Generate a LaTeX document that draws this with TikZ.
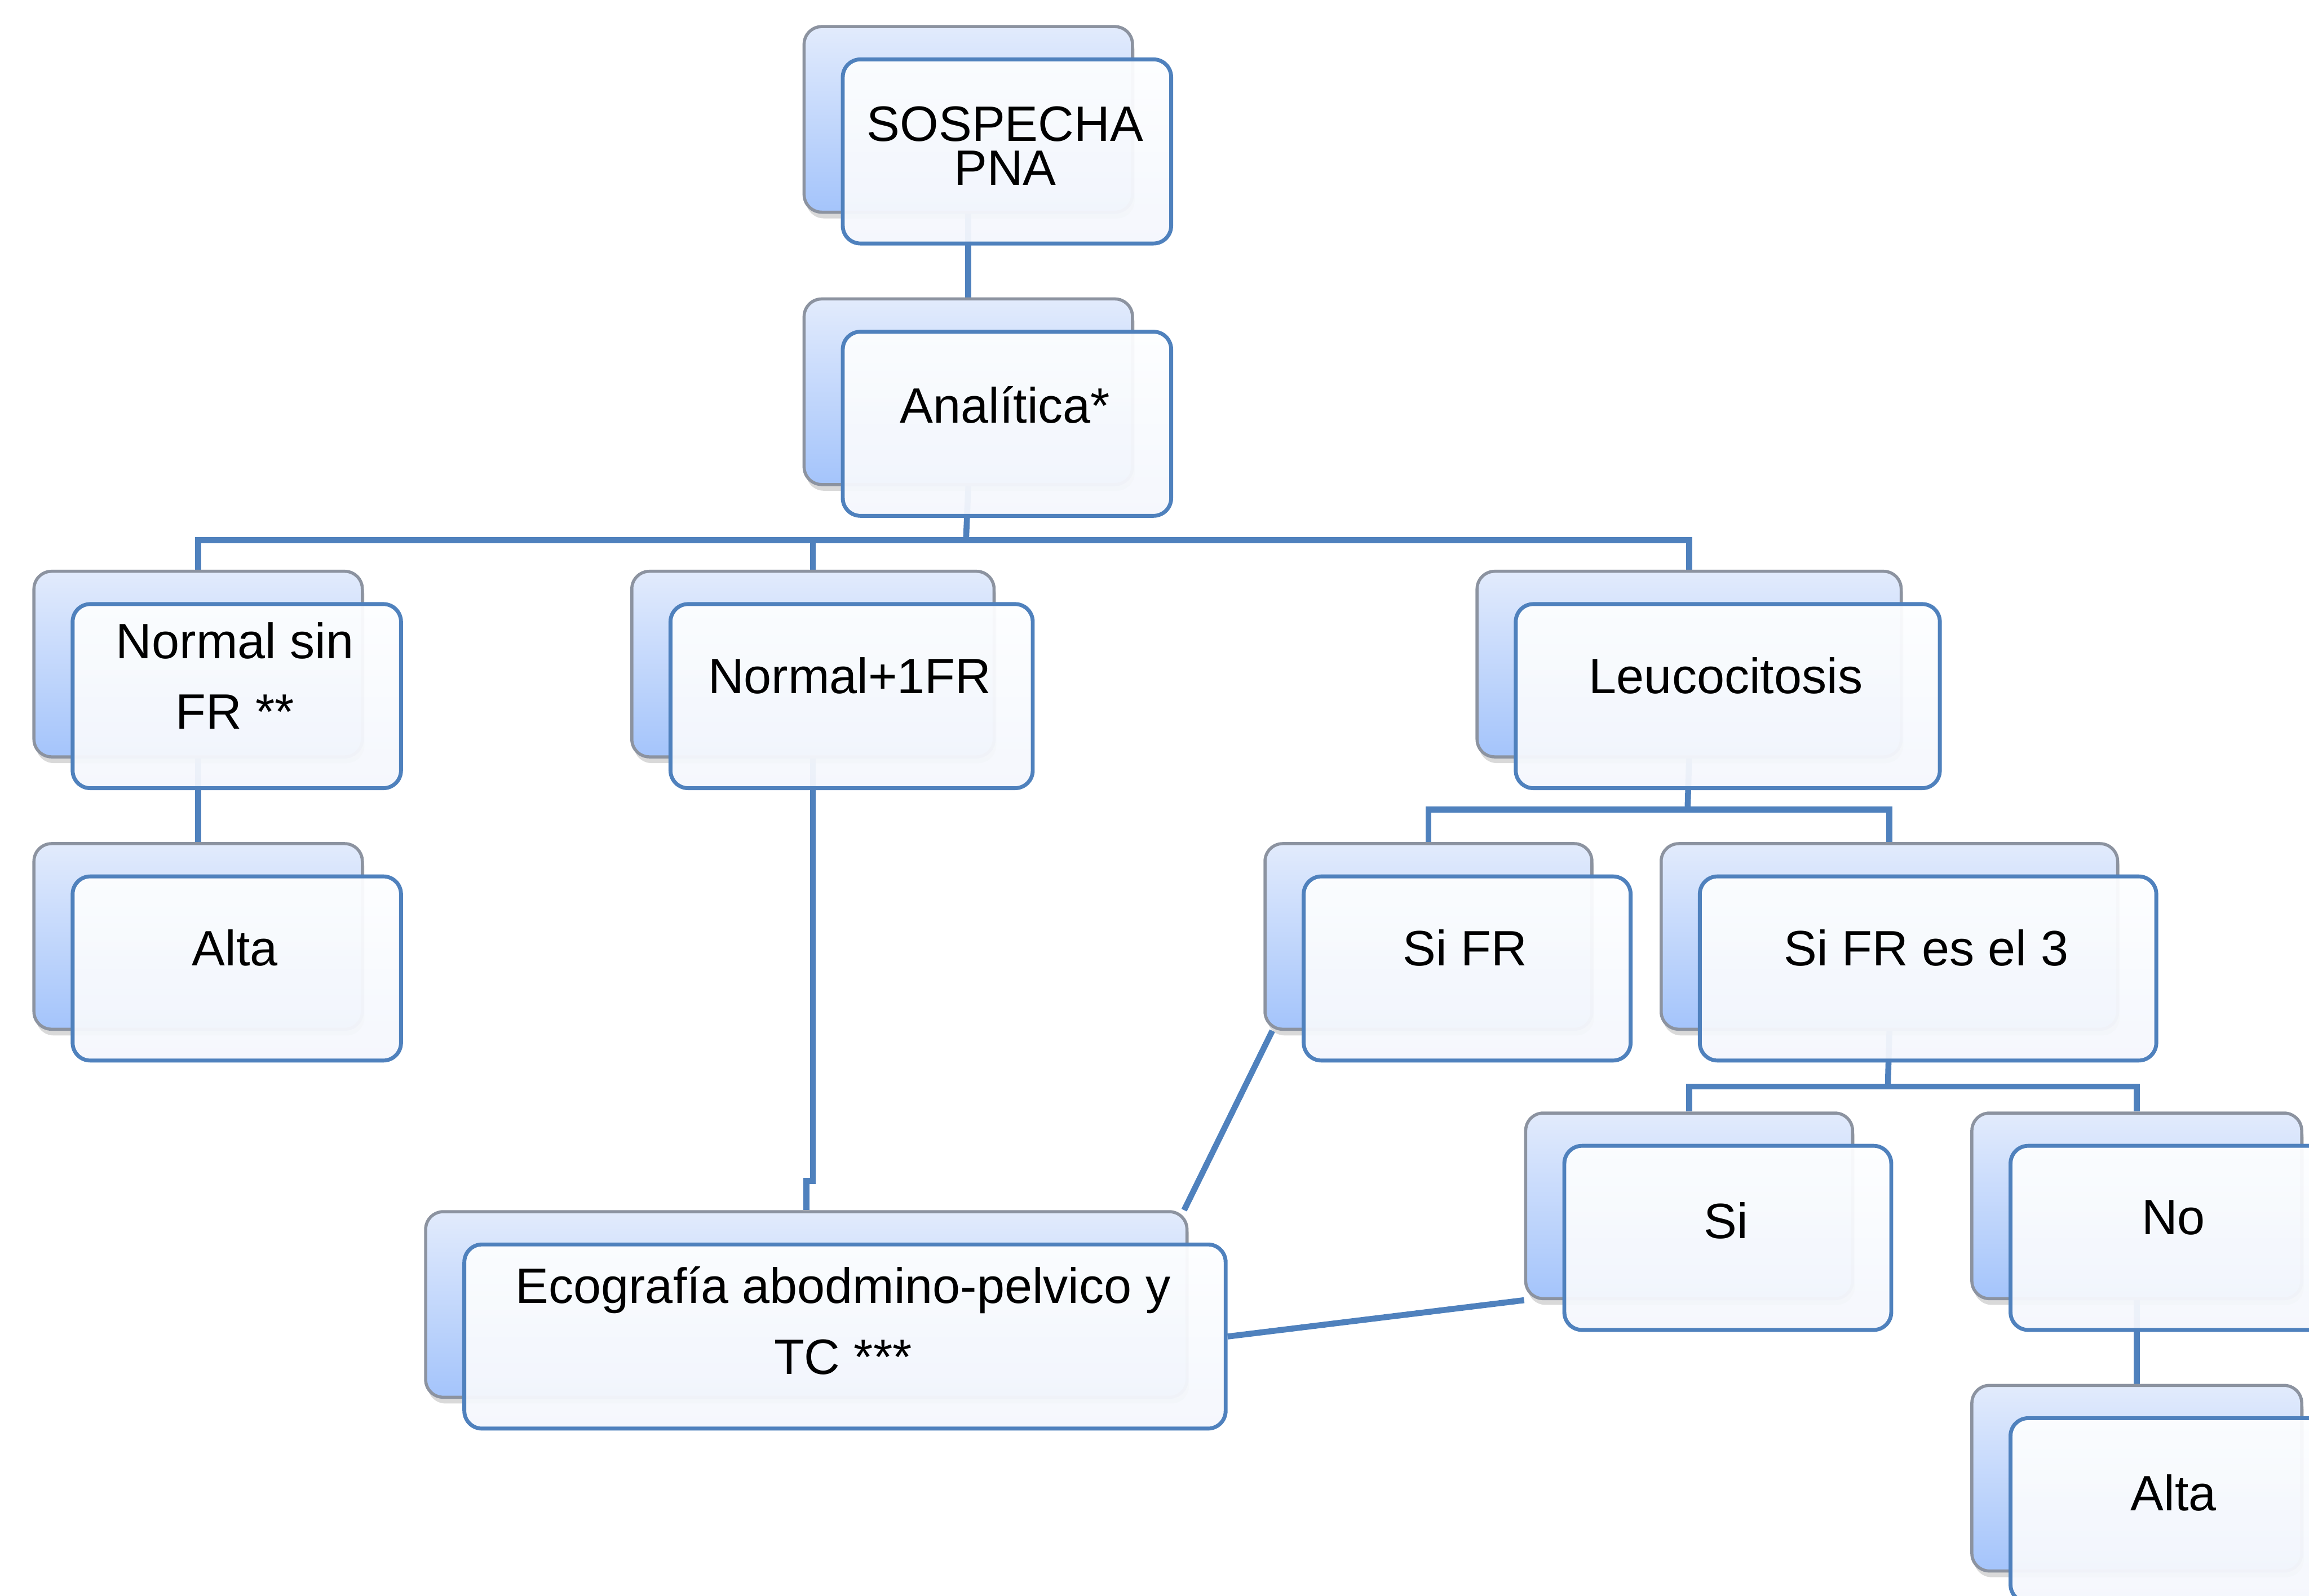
\documentclass[tikz,border=0pt]{standalone}
\usepackage{fontspec}
\setmainfont{Liberation Sans}
\usetikzlibrary{backgrounds,shadows}
\definecolor{boxedge}{HTML}{4F81BD}
\definecolor{backtop}{HTML}{E2EBFC}
\definecolor{backbot}{HTML}{A4C4FB}
\definecolor{backedge}{HTML}{8C93A0}
\definecolor{fronttop}{HTML}{FDFEFF}
\definecolor{frontbot}{HTML}{F4F7FD}
\begin{document}
\begin{tikzpicture}[x=0.01cm,y=-0.01cm,line join=round,
	backbox/.style={rectangle,rounded corners=0.12cm,draw=backedge,line width=0.6pt,
		top color=backtop,bottom color=backbot,minimum height=1.26cm,inner sep=0pt,anchor=north west,
		drop shadow={opacity=0.3,shadow xshift=0.4pt,shadow yshift=-1.2pt}},
	frontbox/.style={rectangle,rounded corners=0.12cm,draw=boxedge,line width=0.75pt,
		top color=fronttop,bottom color=frontbot,fill opacity=0.95,minimum height=1.25cm,inner sep=0pt,anchor=north west},
	txt/.style={align=center,font=\fontsize{9.6}{13.7}\selectfont},
	conn/.style={draw=boxedge,line width=1.15pt}]
	\useasboundingbox (0,0) rectangle (1568,1084);
	\clip (0,0) rectangle (1568,1084);
	% boxes: name/x/y/width/text offset/label
	\foreach \n/\x/\y/\w/\dy/\lbl in {
		sos/545/17/223/60/{SOSPECHA\\[-5.2pt]PNA},
		ana/545/202/223/51/{Analítica*},
		nsf/22/387/223/50/{Normal sin\\FR **},
		alt1/22/572/223/50/{Alta},
		n1/428/387/246/50/{Normal+1FR},
		leu/1002/387/288/50/{Leucocitosis},
		sfr/858/572/222/50/{Si FR},
		sfr3/1127/572/310/50/{Si FR es el 3},
		eco/288/822/517/53/{Ecografía abodmino-pelvico y\\TC ***},
		si/1035/755/222/52/{Si},
		no/1338/755/224/50/{No},
		alt2/1338/940/224/52/{Alta}}{
		\node[backbox,minimum width=\w*0.01cm] (\n-b) at (\x,\y) {};
		\node[frontbox,minimum width=\w*0.01cm] (\n-f) at (\x+26,\y+22) {};
		\node[txt] (\n-t) at (\x+26+\w/2,\y+22+\dy) {\lbl};
	}
	% connectors behind the boxes
	\begin{pgfonlayer}{background}
		\draw[conn] (sos-b.south) -- (ana-b.north);
		\coordinate (bus-a) at (656,367);
		\draw[conn] (ana-b.south) -- (bus-a);
		\draw[conn] (nsf-b.north) |- (bus-a) -| (leu-b.north);
		\draw[conn] (n1-b.north) -- (n1-b.north |- bus-a);
		\draw[conn] (nsf-b.south) -- (alt1-b.north);
		\draw[conn] (n1-b.south) -- ++(0,287) -| (eco-b.north);
		\coordinate (bus-l) at (1146,550);
		\draw[conn] (leu-b.south) -- (bus-l);
		\draw[conn] (sfr-b.north) |- (bus-l) -| (sfr3-b.north);
		\coordinate (bus-s) at (1282,738);
		\draw[conn] (sfr3-b.south) -- (bus-s);
		\draw[conn] (si-b.north) |- (bus-s) -| (no-b.north);
		\draw[conn] (no-b.south) -- (alt2-b.north);
		\draw[conn] ([xshift=0.06cm]sfr-b.south west) -- ([xshift=-0.03cm]eco-b.north east);
		\draw[conn] (si-b.south west) -- (eco-f.east);
	\end{pgfonlayer}
\end{tikzpicture}
\end{document}
